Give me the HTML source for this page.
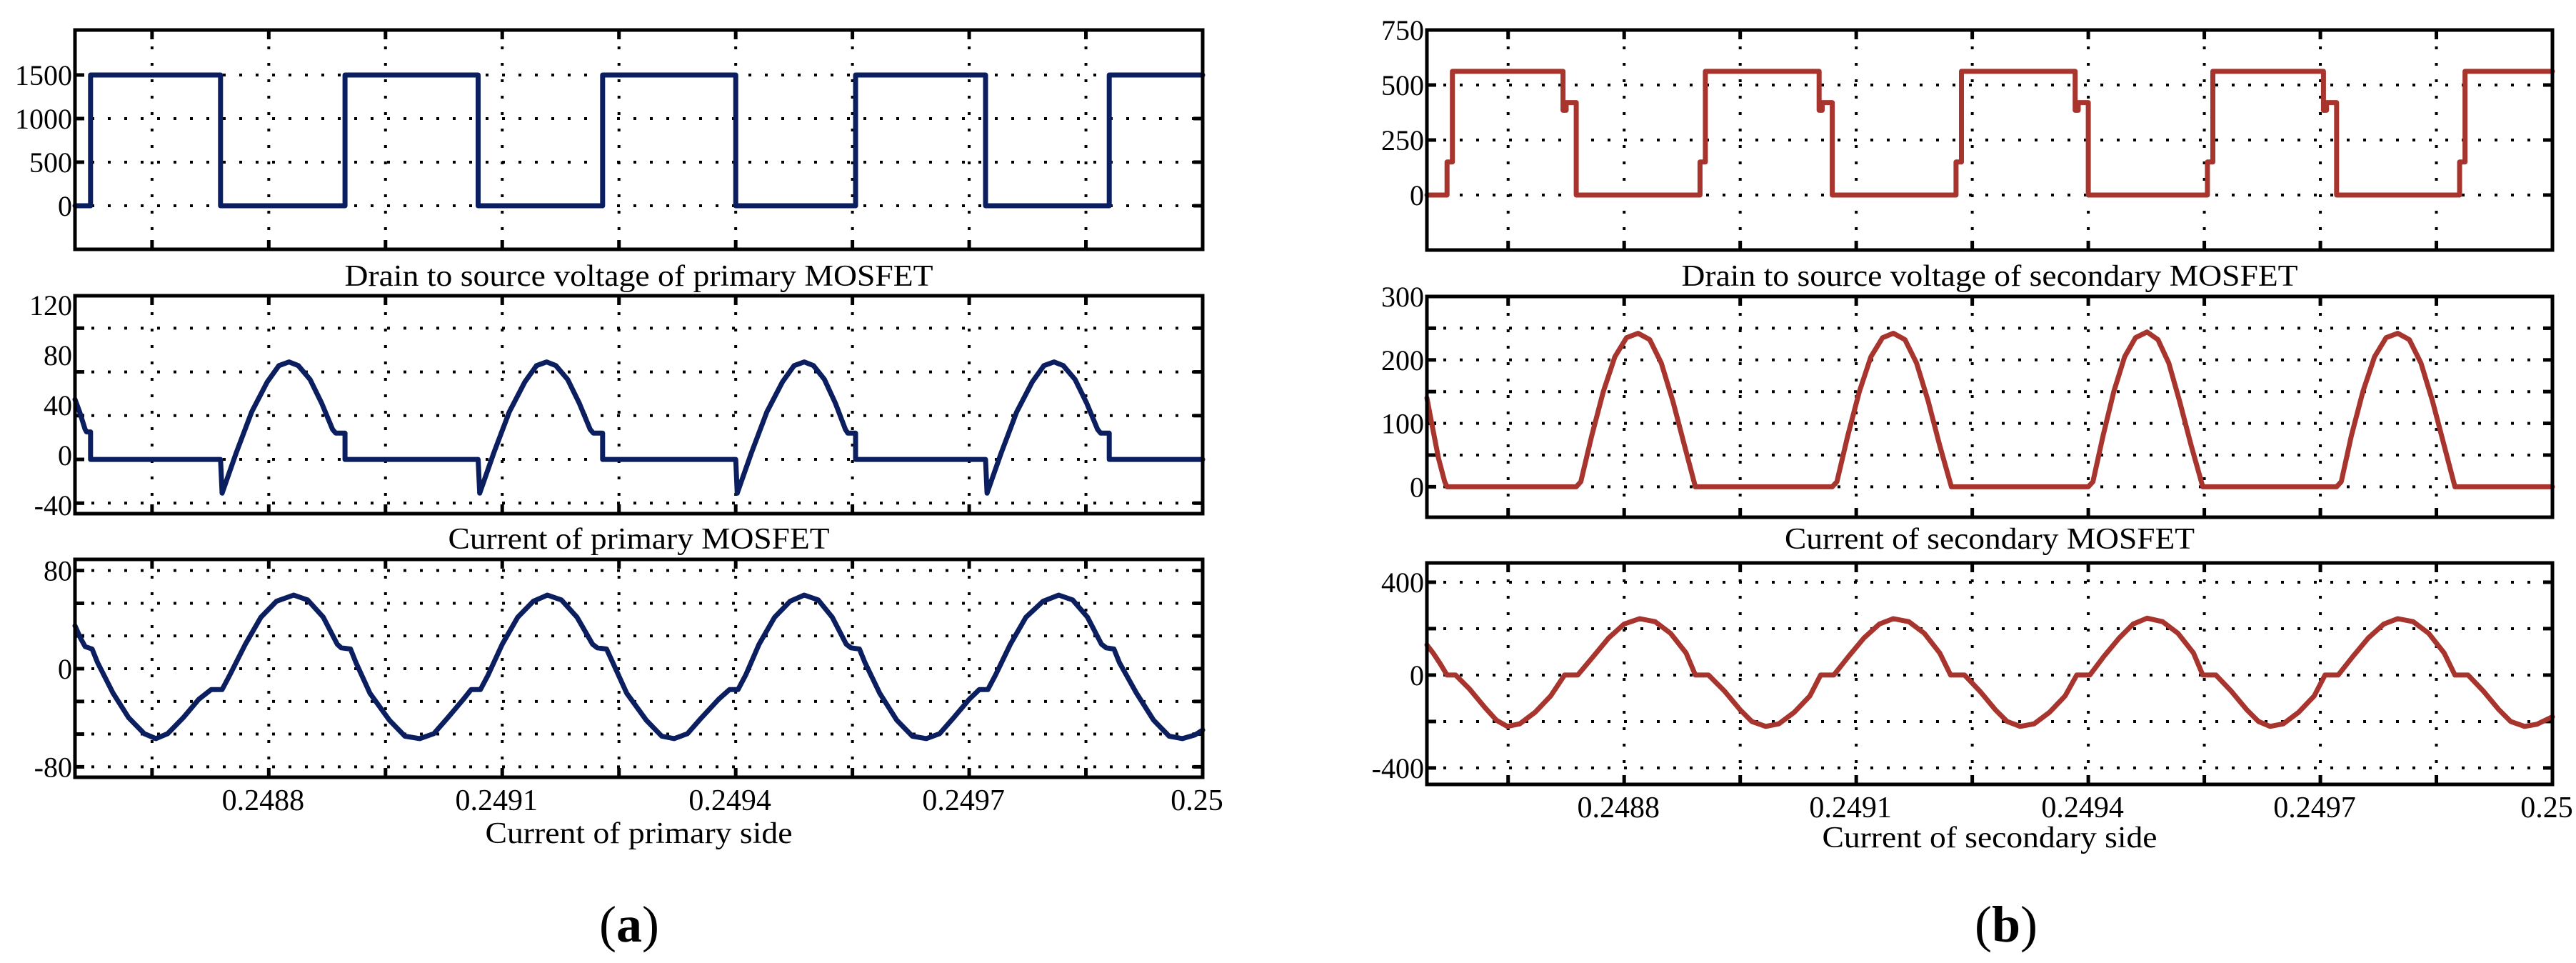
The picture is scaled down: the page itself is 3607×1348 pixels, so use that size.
<!DOCTYPE html>
<html><head><meta charset="utf-8"><style>
html,body{margin:0;padding:0;background:#fff}
svg{display:block}
text{font-family:"Liberation Serif",serif;fill:#000}
</style></head><body>
<svg id="fig" width="3607" height="1348" viewBox="0 0 3607 1348" xmlns="http://www.w3.org/2000/svg"></svg>
<script>
// Time in microseconds after 0.248 s
const xTickVals = [800, 1100, 1400, 1700, 2000];
const xTickLabels = ["0.2488", "0.2491", "0.2494", "0.2497", "0.25"];
const xGridVals = [650, 800, 950, 1100, 1250, 1400, 1550, 1700, 1850];

// (a) primary: drain-source voltage
const lvT = [551,571,571,738,738,898,898,1069,1069,1229,1229,1400,1400,1554,1554,1721,1721,1880,1880,2000];
const lvV = [0,0,1500,1500,0,0,1500,1500,0,0,1500,1500,0,0,1500,1500,0,0,1500,1500];
// (a) primary MOSFET current
const liT = [551,557,564,566,571,571,
 738,740,758,778,798,813,826,838,853,868,882,886,898,898,
 1069,1071,1089,1109,1129,1144,1157,1169,1184,1199,1213,1217,1229,1229,
 1400,1402,1420,1440,1460,1475,1488,1500,1514,1528,1541,1544,1554,1554,
 1721,1723,1741,1761,1781,1796,1809,1821,1836,1851,1865,1869,1880,1880,2000];
const liV = [48,38,24,22,22,0,
 0,-27,5,38,62,75,78,75,64,45,24,21,21,0,
 0,-27,5,38,62,75,78,75,64,45,24,21,21,0,
 0,-27,5,38,62,75,78,75,64,45,24,21,21,0,
 0,-27,5,38,62,75,78,75,64,45,24,21,21,0,0];
// (a) primary side current
const lsT = [551,558,564,573,580,600,620,640,655,670,690,710,726,740,750,770,790,810,832,850,870,888,893,905,912,
 930,955,975,994,1012,1030,1050,1060,1072,1082,1100,1120,1140,1158,1176,1196,1216,1222,1234,1242,
 1260,1285,1305,1321,1338,1356,1378,1392,1403,1413,1430,1450,1470,1488,1506,1524,1542,1548,1559,1566,
 1585,1607,1627,1645,1662,1680,1700,1713,1724,1734,1753,1773,1795,1815,1833,1852,1870,1876,1886,1893,
 1915,1937,1957,1974,1990,2000];
const lsV = [35,25,18,16,5,-20,-40,-53,-57,-53,-40,-25,-17,-17,-5,20,42,55,60,56,42,20,17,16,5,
 -20,-42,-55,-57,-53,-40,-25,-17,-17,-5,20,42,55,60,56,42,20,17,16,5,
 -20,-42,-55,-57,-53,-40,-25,-17,-17,-5,20,42,55,60,56,42,20,17,16,5,
 -20,-42,-55,-57,-53,-40,-25,-17,-17,-5,20,42,55,60,56,42,20,17,16,5,
 -20,-42,-55,-57,-54,-50];

// (b) secondary: drain-source voltage
const rvT = [545,571,571,578,578,721,721,725,725,738,738,
 898,898,905,905,1052,1052,1056,1056,1069,1069,
 1229,1229,1236,1236,1383,1383,1387,1387,1400,1400,
 1554,1554,1561,1561,1704,1704,1708,1708,1721,1721,
 1880,1880,1887,1887,2000];
const rvV = [0,0,150,150,562,562,385,385,420,420,0,
 0,150,150,562,562,385,385,420,420,0,
 0,150,150,562,562,385,385,420,420,0,
 0,150,150,562,562,385,385,420,420,0,
 0,150,150,562,562];
// (b) secondary MOSFET current
const rmT = [545,552,560,568,571,
 738,744,758,773,788,803,818,833,848,863,878,892,
 1069,1075,1089,1104,1119,1134,1148,1163,1178,1193,1208,1223,
 1400,1406,1419,1433,1447,1461,1476,1490,1504,1518,1533,1548,
 1721,1727,1740,1755,1770,1785,1800,1815,1830,1845,1860,1874,2000];
const rmV = [140,95,45,8,0,
 0,8,80,150,205,235,242,232,195,135,65,0,
 0,8,80,150,205,235,242,232,195,135,65,0,
 0,8,80,150,205,235,244,232,195,135,65,0,
 0,8,80,150,205,235,242,232,195,135,65,0,0];
// (b) secondary side current
const rsT = [545,553,562,571,582,600,620,635,649,665,685,705,723,740,760,780,800,820,840,860,880,892,909,
 930,950,965,983,1000,1020,1040,1054,1071,1090,1110,1130,1148,1168,1188,1208,1222,1240,
 1260,1280,1295,1312,1330,1350,1370,1385,1402,1420,1440,1458,1476,1496,1516,1536,1548,1565,
 1585,1605,1620,1635,1652,1672,1692,1706,1723,1742,1762,1782,1800,1820,1840,1860,1874,1891,
 1911,1931,1946,1964,1980,2000];
const rsV = [130,95,50,0,0,-60,-140,-195,-221,-210,-160,-90,0,0,80,160,220,243,230,180,95,0,0,
 -70,-150,-200,-221,-210,-160,-90,0,0,80,160,220,243,230,180,95,0,0,
 -70,-150,-200,-221,-210,-160,-90,0,0,80,160,220,245,230,180,95,0,0,
 -70,-150,-200,-221,-210,-160,-90,0,0,80,160,220,243,230,180,95,0,0,
 -70,-150,-200,-221,-212,-180];

const lvTicks=[0,500,1000,1500], lvLabels=["0","500","1000","1500"];
const liGrid=[-35,0,35,70,105], liTicks=[-40,0,40,80,120], liLabels=["-40","0","40","80","120"];
const lsGrid=[-80,-53.3,-26.7,0,26.7,53.3,80], lsTicks=[-80,0,80], lsLabels=["-80","0","80"];
const rvGrid=[0,250,500], rvTicks=[0,250,500,750], rvLabels=["0","250","500","750"];
const rmGrid=[0,50,100,150,200,250], rmTicks=[0,100,200,300], rmLabels=["0","100","200","300"];
const rsGrid=[-400,-200,0,200,400], rsTicks=[-400,0,400], rsLabels=["-400","0","400"];

const NS="http://www.w3.org/2000/svg";
const svg=document.getElementById('fig');
function mk(tag,attrs,parent){const e=document.createElementNS(NS,tag);for(const k in attrs)e.setAttribute(k,attrs[k]);(parent||svg).appendChild(e);return e;}

function panel(p){
  const g=mk('g',{});
  
  
  const sx=v=>p.x0+(v-p.t0)/(p.t1-p.t0)*(p.x1-p.x0);
  const sy=v=>p.y1-(v-p.v0)/(p.v1-p.v0)*(p.y1-p.y0);
  // grid
  p.xg.forEach(t=>{const l=mk('line',{x1:sx(t),x2:sx(t),y1:p.y0,y2:p.y1,stroke:'#000','stroke-width':4,'stroke-dasharray':'4 19'},g);
    });
  p.yg.forEach(v=>{const l=mk('line',{x1:p.x0,x2:p.x1,y1:sy(v),y2:sy(v),stroke:'#000','stroke-width':4,'stroke-dasharray':'4 19'},g);
    });
  // tick marks
  p.xg.forEach(t=>{const X=sx(t);
    mk('line',{x1:X,x2:X,y1:p.y0,y2:p.y0+13,stroke:'#000','stroke-width':5},g);
    mk('line',{x1:X,x2:X,y1:p.y1,y2:p.y1-13,stroke:'#000','stroke-width':5},g);});
  p.yg.forEach(v=>{const Y=sy(v);
    mk('line',{x1:p.x0,x2:p.x0+13,y1:Y,y2:Y,stroke:'#000','stroke-width':5},g);
    mk('line',{x1:p.x1,x2:p.x1-13,y1:Y,y2:Y,stroke:'#000','stroke-width':5},g);});
  // trace
  let d='';p.T.forEach((t,i)=>{d+=(i?'L':'M')+sx(t).toFixed(1)+' '+sy(p.V[i]).toFixed(1);});
  const path=mk('path',{d:d,fill:'none',stroke:p.color,'stroke-width':7,'stroke-linejoin':'round','stroke-linecap':'round'},g);
  
  
  // frame
  const fr=mk('rect',{x:p.x0,y:p.y0,width:p.x1-p.x0,height:p.y1-p.y0,fill:'none',stroke:'#000','stroke-width':5},g);
  
  // y labels
  p.yt.forEach((v,i)=>{const tx=mk('text',{x:p.x0-4,y:sy(v)+14+(p.ldy||0),'text-anchor':'end','font-size':40},g);
    tx.textContent=p.yl[i];});
  // x labels
  if(p.xlab){xTickVals.forEach((t,i)=>{const tx=mk('text',{x:sx(t)-8,y:p.y1+46,'text-anchor':'middle','font-size':42},g);
    tx.textContent=xTickLabels[i];});}
  // title
  const tt=mk('text',{x:(p.x0+p.x1)/2,y:p.ty,'text-anchor':'middle','font-size':42,textLength:p.tw,lengthAdjust:'spacingAndGlyphs'},g);
  tt.textContent=p.title;
}
const L={x0:105,x1:1684,t0:551,t1:2000}, R={x0:1998,x1:3574,t0:545,t1:2000};
const BLUE='#0b1e60', RED='#a8342e';
panel(Object.assign({},L,{name:'primary-voltage-plot',y0:42,y1:349,v0:-500,v1:2016,T:lvT,V:lvV,xg:xGridVals,yg:lvTicks,yt:lvTicks,yl:lvLabels,color:BLUE,title:'Drain to source voltage of primary MOSFET',ty:400,tw:824}));
panel(Object.assign({},L,{name:'primary-mosfet-current-plot',y0:414,y1:719,v0:-43.4,v1:130.9,T:liT,V:liV,xg:xGridVals,yg:liGrid,yt:liTicks,yl:liLabels,ldy:-6,color:BLUE,title:'Current of primary MOSFET',ty:768,tw:534}));
panel(Object.assign({},L,{name:'primary-side-current-plot',y0:783,y1:1088,v0:-88.5,v1:89.1,T:lsT,V:lsV,xg:xGridVals,yg:lsGrid,yt:lsTicks,yl:lsLabels,color:BLUE,xlab:true,title:'Current of primary side',ty:1180,tw:430}));
panel(Object.assign({},R,{name:'secondary-voltage-plot',y0:42,y1:350,v0:-250,v1:750,T:rvT,V:rvV,xg:xGridVals,yg:rvGrid,yt:rvTicks,yl:rvLabels,color:RED,title:'Drain to source voltage of secondary MOSFET',ty:400,tw:863}));
panel(Object.assign({},R,{name:'secondary-mosfet-current-plot',y0:415,y1:724,v0:-48,v1:300,T:rmT,V:rmV,xg:xGridVals,yg:rmGrid,yt:rmTicks,yl:rmLabels,color:RED,title:'Current of secondary MOSFET',ty:768,tw:574}));
panel(Object.assign({},R,{name:'secondary-side-current-plot',y0:788,y1:1098,v0:-471,v1:483,T:rsT,V:rsV,xg:xGridVals,yg:rsGrid,yt:rsTicks,yl:rsLabels,color:RED,xlab:true,title:'Current of secondary side',ty:1186,tw:469}));
function cap(x,letter,name){const t=mk('text',{x:x,y:1318,'text-anchor':'middle','font-size':72});
  
  const a=mk('tspan',{},t);a.textContent='(';const b=mk('tspan',{'font-weight':'bold'},t);b.textContent=letter;const c=mk('tspan',{},t);c.textContent=')';}
cap(881,'a','caption-a');cap(2809,'b','caption-b');
</script>
</body></html>
